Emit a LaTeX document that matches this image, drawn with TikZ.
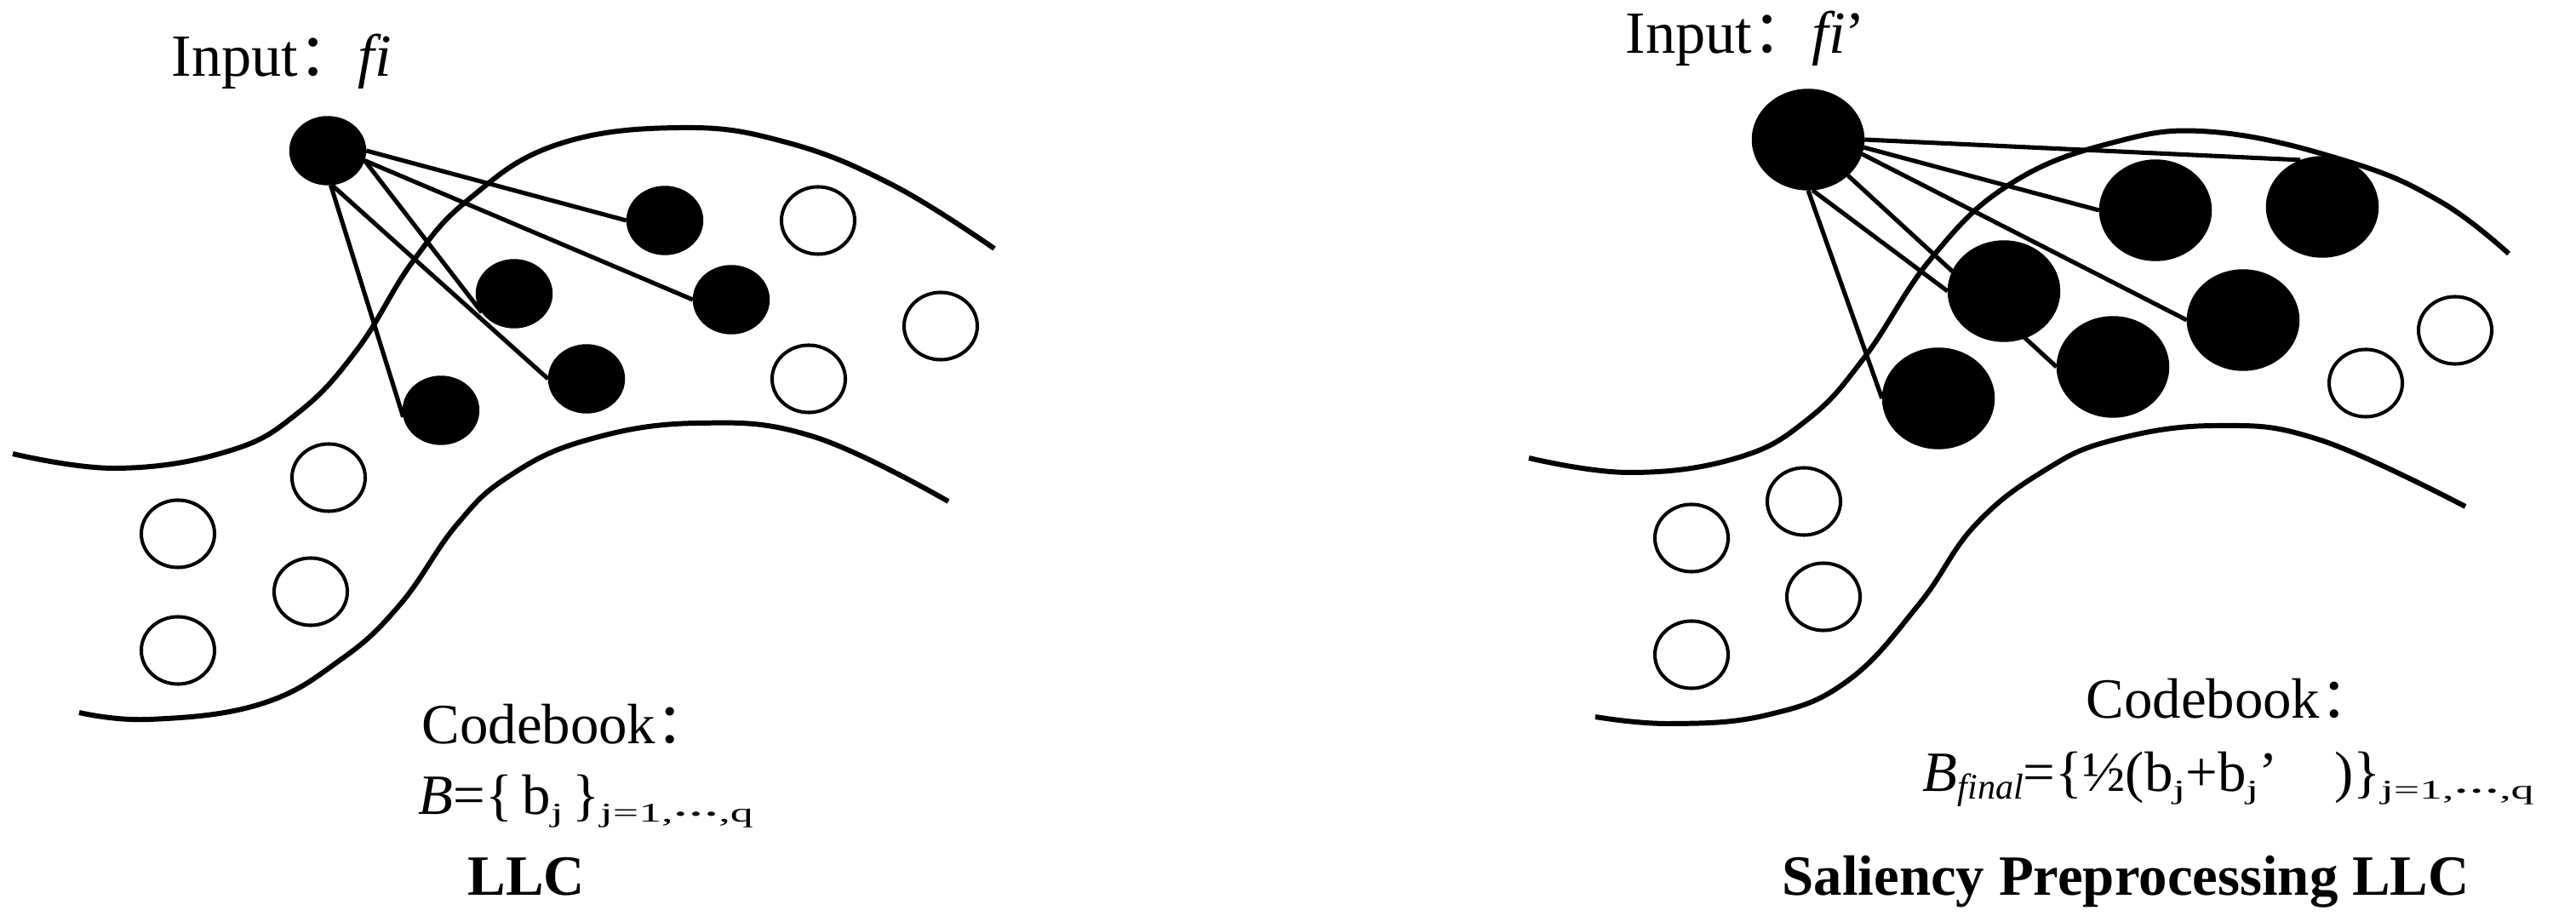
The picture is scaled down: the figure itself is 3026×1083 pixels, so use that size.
\documentclass[tikz,border=0pt]{standalone}
\usepackage{fontspec}
\setmainfont{Liberation Serif}
\newfontfamily\cjk{Noto Sans CJK SC}
\usetikzlibrary{shapes.geometric}
\newcommand{\lowtxt}[1]{\raisebox{-2.3pt}{\fontsize{12}{14}\selectfont #1}}
\newcommand{\widesub}[1]{\raisebox{-2.3pt}{\scalebox{1.7}[1]{\fontsize{9}{11}\selectfont #1}}}
\newcommand{\cdts}{\raisebox{0.22em}{\textbf{…}}}
\begin{document}
\begin{tikzpicture}[x=0.01cm,y=-0.01cm]

    \tikzset{
      dot/.style={
        draw,
        fill=black,
        ellipse,
        inner sep=0pt,
        minimum width=0.89cm,
        minimum height=0.80cm,
      },
      bigdot/.style={dot, minimum width=1.31cm, minimum height=1.18cm},
      ring/.style={
        draw,
        ellipse,
        line width=1.15pt,
        inner sep=0pt,
        minimum width=0.86cm,
        minimum height=0.79cm,
      },
      curve/.style={line width=1.7pt},
      link/.style={line width=1.45pt},
      txt/.style={inner sep=0pt, anchor=base west, font=\fontsize{19}{22}\selectfont},
    }
    \useasboundingbox (0,0) rectangle (3026,1083);
	\draw[curve] plot[smooth, tension=0.7] coordinates {(15,533) (137,550) (268,530) (350,485) (420,410) (485,307) (552,233) (654,170) (799,150) (923,167) (1048,217) (1168,292)};
	\draw[curve] plot[smooth, tension=0.7] coordinates {(93,837) (176,845) (306,827) (400,775) (470,710) (536,617) (597,560) (689,517) (819,497) (956,513) (1114,589)};
	\draw[curve] plot[smooth, tension=0.7] coordinates {(1796,538) (1914,555) (2040,538) (2123,493) (2190,420) (2269,303) (2360,217) (2480,168) (2600,155) (2759,190) (2867,237) (2947,298)};
	\draw[curve] plot[smooth, tension=0.7] coordinates {(1874,842) (1962,850) (2075,840) (2170,800) (2254,710) (2320,617) (2401,553) (2482,517) (2604,500) (2726,517) (2896,595)};

	\node[dot] (in1) at (385,177) {};
	\node[dot] (a1) at (781,259) {};
	\node[dot] (b1) at (604,345) {};
	\node[dot] (c1) at (859,352) {};
	\node[dot] (d1) at (689,445) {};
	\node[dot] (e1) at (518,482) {};
	\node[ring] (o1) at (961,259) {};
	\node[ring] (o2) at (1105,383) {};
	\node[ring] (o3) at (950,445) {};
	\node[ring] (o4) at (386,561) {};
	\node[ring] (o5) at (209,627) {};
	\node[ring] (o6) at (365,695) {};
	\node[ring] (o7) at (209,764) {};
	\draw[link] (in1.east)--(a1.west);\draw[link] (in1.-15)--(c1.west);\draw[link] (in1.-15)--(b1.210);
	\draw[link] (in1.-83)--(d1.west);\draw[link] (in1.-85)--(e1.190);

	\node[bigdot] (in2) at (2124,164) {};
	\node[bigdot] (f1) at (2532,247) {};
	\node[bigdot] (f2) at (2728,243) {};
	\node[bigdot] (f3) at (2354,342) {};
	\node[bigdot] (f4) at (2635,376) {};
	\node[bigdot] (f5) at (2482,431) {};
	\node[bigdot] (f6) at (2277,468) {};
	\node[ring] (p1) at (2884,388) {};
	\node[ring] (p2) at (2779,450) {};
	\node[ring] (p3) at (2119,589) {};
	\node[ring] (p4) at (1987,632) {};
	\node[ring] (p5) at (2142,701) {};
	\node[ring] (p6) at (1987,769) {};
	\draw[link] (in2.east)--(f2.115);\draw[link] (in2.-8)--(f1.west);\draw[link] (in2.-15)--(f4.west);
	\draw[link] (in2.south east)--(f5.west);\draw[link] (in2.-85)--(f3.west);\draw[link] (in2.south)--(f6.west);

	\node[txt, font=\fontsize{20}{23}\selectfont] (inp1) at (201,90) {Input{\cjk ：}\textit{f\kern0pt i}};
	\node[txt, font=\fontsize{20}{23}\selectfont] (inp2) at (1909,63) {Input{\cjk ：}\textit{f\kern0pt i}’};
	\node[txt] (cb1) at (495,874) {Codebook{\cjk ：}};
	\node[txt] (cb2) at (2450,844) {Codebook{\cjk ：}};
	\node[txt] (cbf1) at (491,957) {\textit{B}=\{\,b\widesub{j}\,\}\widesub{j=1,\cdts,q}};
	\node[txt] (cbf2) at (2258,930) {\textit{B}\lowtxt{\textit{final}}=\{½(b\widesub{j}+b\widesub{j}’\hspace{1em})\}\widesub{j=1,\cdts,q}};
	\node[txt, font=\fontsize{19}{22}\selectfont\bfseries] (ttl1) at (549,1052) {LLC};
	\node[txt, font=\fontsize{19}{22}\selectfont\bfseries] (ttl2) at (2093,1052) {Saliency Preprocessing LLC};

\end{tikzpicture}
\end{document}
